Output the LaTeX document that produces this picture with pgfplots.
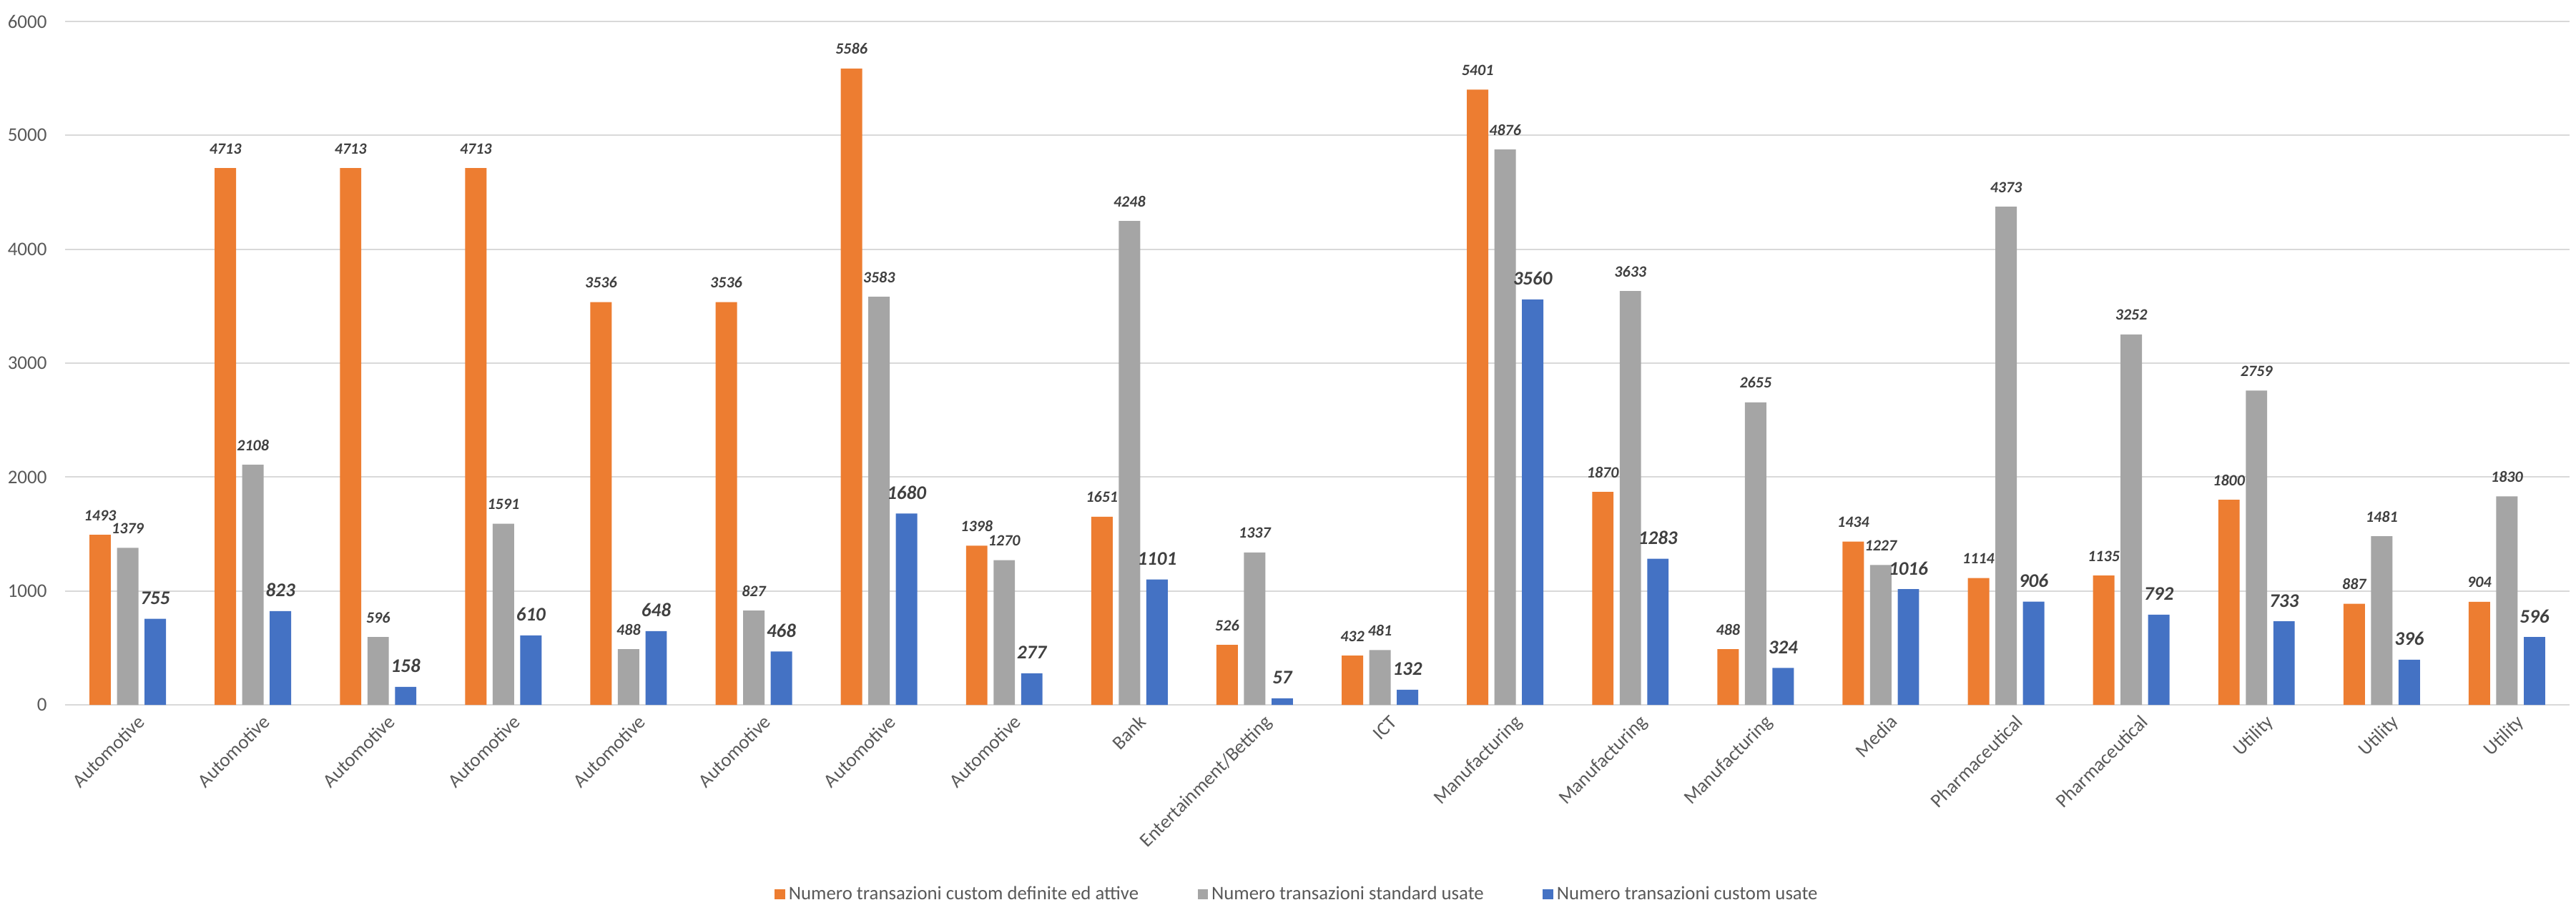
\documentclass[border=0pt]{standalone}
\usepackage{fontspec}
\setmainfont{Carlito}
\usepackage{pgfplots}
\pgfplotsset{compat=1.18}
\definecolor{cOr}{HTML}{ED7D31}
\definecolor{cGr}{HTML}{A5A5A5}
\definecolor{cBl}{HTML}{4472C4}
\definecolor{cGrid}{HTML}{D9D9D9}
\definecolor{cTxt}{HTML}{595959}
\definecolor{cLab}{HTML}{404040}
\begin{document}
\begin{tikzpicture}
\useasboundingbox (0,0) rectangle (1440.8pt,511.6pt);
\begin{axis}[
  at={(36.4pt,117.2pt)}, anchor=south west,
  scale only axis, width=1400.8pt, height=382.4pt,
  xmin=-0.5, xmax=19.5, ymin=0, ymax=6000,
  ybar, bar width=0.171,
  axis line style={draw=none},
  major tick length=0pt,
  ytick={0,1000,...,6000},
  scaled y ticks=false,
  ymajorgrids, grid style={cGrid, line width=0.9pt},
  xtick={0,...,19},
  xticklabels={Automotive,Automotive,Automotive,Automotive,Automotive,Automotive,Automotive,Automotive,Bank,Entertainment/Betting,ICT,Manufacturing,Manufacturing,Manufacturing,Media,Pharmaceutical,Pharmaceutical,Utility,Utility,Utility},
  xticklabel style={rotate=45, anchor=mid east, inner sep=0pt, yshift=-12pt, font=\fontsize{10.8}{12}\selectfont, text=cTxt},
  yticklabel style={anchor=east, inner sep=0pt, xshift=-10pt, font=\fontsize{10.8}{12}\selectfont, text=cTxt},
  /pgf/number format/assume math mode=true,
  /pgf/number format/1000 sep={},
  nodes near coords,
  every node near coord/.append style={anchor=base, yshift=8pt, inner sep=0pt, text=cLab, font=\bfseries\itshape\fontsize{8.8}{10}\selectfont},
  legend style={at={(0.4923,-0.2772)}, anchor=center, draw=none, legend columns=3, font=\fontsize{10.7}{12}\selectfont, text=cTxt, /tikz/every even column/.append style={column sep=31pt}},
  legend image code/.code={\fill[#1] (0pt,-2.9pt) rectangle (5.8pt,2.9pt);},
]
\addplot[fill=cOr, draw=none, bar shift=-0.22] coordinates {
(0,1493) (1,4713) (2,4713) (3,4713) (4,3536) (5,3536) (6,5586) (7,1398) (8,1651) (9,526)
(10,432) (11,5401) (12,1870) (13,488) (14,1434) (15,1114) (16,1135) (17,1800) (18,887) (19,904)};
\addplot[fill=cGr, draw=none, bar shift=0] coordinates {
(0,1379) (1,2108) (2,596) (3,1591) (4,488) (5,827) (6,3583) (7,1270) (8,4248) (9,1337)
(10,481) (11,4876) (12,3633) (13,2655) (14,1227) (15,4373) (16,3252) (17,2759) (18,1481) (19,1830)};
\addplot[fill=cBl, draw=none, bar shift=0.22, every node near coord/.append style={font=\bfseries\itshape\fontsize{10.8}{12}\selectfont}] coordinates {
(0,755) (1,823) (2,158) (3,610) (4,648) (5,468) (6,1680) (7,277) (8,1101) (9,57)
(10,132) (11,3560) (12,1283) (13,324) (14,1016) (15,906) (16,792) (17,733) (18,396) (19,596)};
\legend{Numero transazioni custom definite ed attive, Numero transazioni standard usate, Numero transazioni custom usate}
\end{axis}
\end{tikzpicture}
\end{document}
